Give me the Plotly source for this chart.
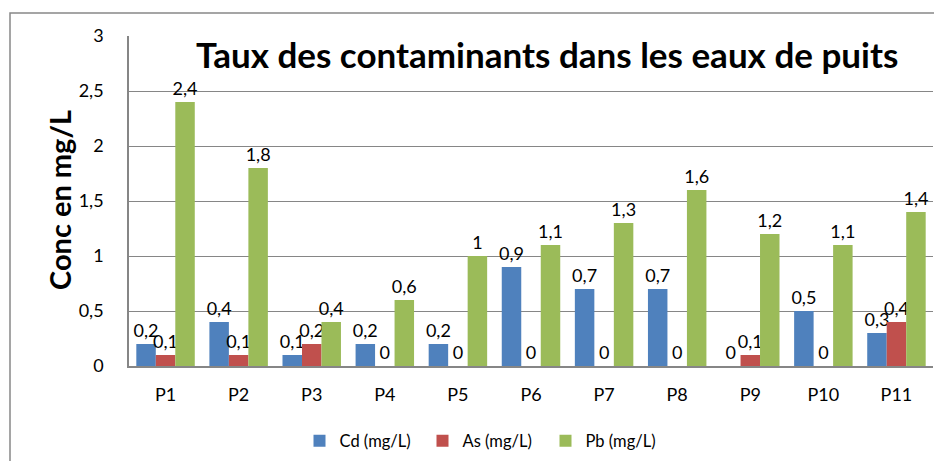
import plotly.graph_objects as go

categories = ["P1", "P2", "P3", "P4", "P5", "P6", "P7", "P8", "P9", "P10", "P11"]
cd_values = [0.2, 0.4, 0.1, 0.2, 0.2, 0.9, 0.7, 0.7, 0, 0.5, 0.3]
as_values = [0.1, 0.1, 0.2, 0, 0, 0, 0, 0, 0.1, 0, 0.4]
pb_values = [2.4, 1.8, 0.4, 0.6, 1, 1.1, 1.3, 1.6, 1.2, 1.1, 1.4]
series_names = ["Cd (mg/L)", "As (mg/L)", "Pb (mg/L)"]
colors = ["#4F81BD", "#C0504D", "#9BBB59"]
FONT = "Lato"


def fmt(v):
    s = ("%g" % v)
    return s.replace(".", ",")


fig = go.Figure()
for name, vals, col in zip(series_names, [cd_values, as_values, pb_values], colors):
    fig.add_trace(go.Bar(
        x=categories, y=vals, name=name,
        marker=dict(color=col, line=dict(width=0)),
        text=[fmt(v) for v in vals], textposition="outside",
        textfont=dict(family=FONT, size=18, color="#000"),
        cliponaxis=False, constraintext="none",
    ))

# the page body has an 8px margin, so the figure is drawn 8px smaller
fig.update_layout(
    width=934, height=453,
    margin=dict(l=121, r=9, t=28, b=95, autoexpand=False),
    paper_bgcolor="white", plot_bgcolor="white",
    barmode="group", bargap=0.2, bargroupgap=0,
    separators=", ",
    font=dict(family=FONT, size=18, color="#000"),
    showlegend=True,
    legend=dict(orientation="h", xref="container", yref="container",
                x=(484 - 8) / 934, xanchor="center",
                y=(461 - 441) / 453, yanchor="middle",
                entrywidth=78, entrywidthmode="pixels",
                font=dict(family=FONT, size=16.5), itemwidth=30, traceorder="normal"),
    xaxis=dict(showgrid=False, showline=True, linecolor="#868686", linewidth=1.5,
               ticks="", tickfont=dict(family=FONT, size=18), ticklabelstandoff=12),
    yaxis=dict(range=[0, 3], dtick=0.5, showgrid=True, gridcolor="#868686", gridwidth=1.2,
               showline=True, linecolor="#868686", linewidth=1.5, ticks="", zeroline=False,
               tickfont=dict(family=FONT, size=18), ticklabelstandoff=20),
    annotations=[
        dict(text="<b>Taux des contaminants dans les eaux de puits</b>",
             xref="paper", yref="paper", x=(547 - 129) / 804, y=(366 - 54) / 330,
             xanchor="center", yanchor="middle", showarrow=False,
             font=dict(family=FONT, size=35, color="#000")),
        dict(text="<b>Conc en mg/L</b>", textangle=-90,
             xref="paper", yref="paper", x=(59 - 129) / 804, y=(366 - 200) / 330,
             xanchor="center", yanchor="middle", showarrow=False,
             font=dict(family=FONT, size=29, color="#000")),
    ],
    shapes=[dict(type="rect", xref="paper", yref="paper",
                 x0=-119 / 804, x1=1.2, y0=-0.6, y1=(366 - 13) / 330,
                 line=dict(color="#888888", width=1.5), layer="below")],
)

fig.write_html("out.html")
